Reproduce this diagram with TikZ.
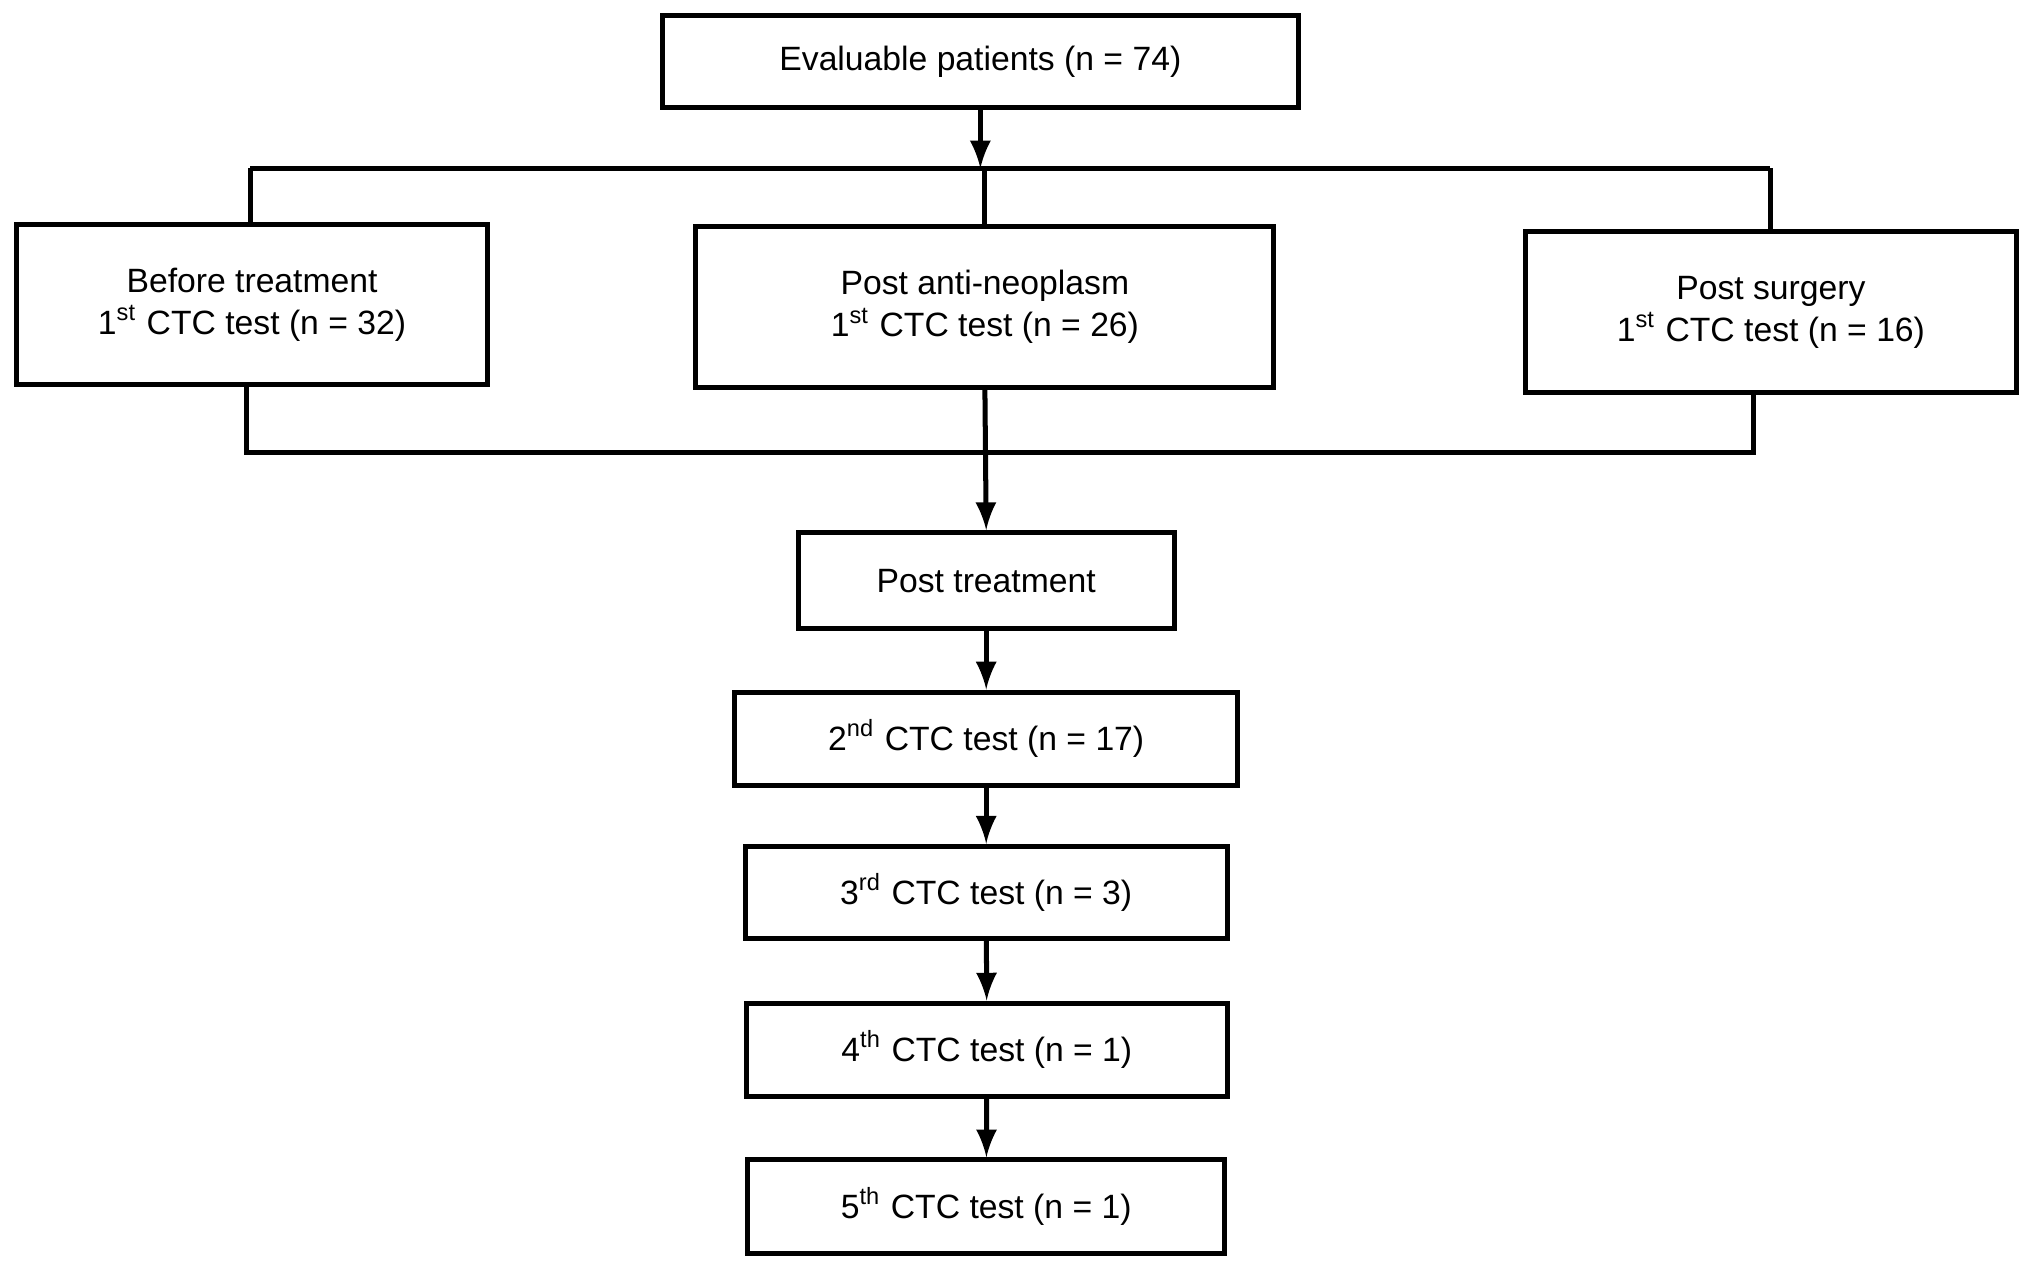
\documentclass[tikz,border=0pt]{standalone}
\usepackage{fontspec}
\setmainfont{Liberation Sans}
\usetikzlibrary{calc}
\tikzset{box/.style={draw,line width=1.1pt,align=center,inner sep=0pt,font=\fontsize{7.4}{9.2}\selectfont},
link/.style={line width=1.1pt}}
\begin{document}
\begin{tikzpicture}
\useasboundingbox (0,0) rectangle (15.68,9.8);
\node[box,minimum width=4.91cm,minimum height=0.71cm] (eval) at (7.565,9.325) {Evaluable patients (n = 74)};

\node[box,minimum width=3.63cm,minimum height=1.24cm] (before) at (1.945,7.45) {Before treatment\\1\textsuperscript{st} CTC test (n = 32)};
\node[box,minimum width=4.46cm,minimum height=1.24cm] (neo) at (7.60,7.43) {Post anti-neoplasm\\1\textsuperscript{st} CTC test (n = 26)};
\node[box,minimum width=3.79cm,minimum height=1.24cm] (surg) at (13.665,7.39) {Post surgery\\1\textsuperscript{st} CTC test (n = 16)};

\node[box,minimum width=2.9cm,minimum height=0.74cm] (post) at (7.61,5.32) {Post treatment};
\node[box,minimum width=3.88cm,minimum height=0.72cm] (second) at (7.61,4.10) {2\textsuperscript{nd} CTC test (n = 17)};
\node[box,minimum width=3.72cm,minimum height=0.71cm] (third) at (7.61,2.915) {3\textsuperscript{rd} CTC test (n = 3)};
\node[box,minimum width=3.71cm,minimum height=0.72cm] (fourth) at (7.615,1.70) {4\textsuperscript{th} CTC test (n = 1)};
\node[box,minimum width=3.68cm,minimum height=0.72cm] (fifth) at (7.61,0.49) {5\textsuperscript{th} CTC test (n = 1)};

% split lines
\coordinate (tl) at (1.93,8.5);
\coordinate (tr) at (13.66,8.5);
\coordinate (bl) at (1.90,6.31);
\coordinate (br) at (13.53,6.31);
\draw[link,-latex] (eval.south) -- (eval.south |- tl);
\draw[link] (tl) -- (tr);
\draw[link] (before.north -| tl) -- (tl);
\draw[link] (neo.north) -- (neo.north |- tl);
\draw[link] (surg.north -| tr) -- (tr);
\draw[link] (before.south -| bl) -- (bl) -- (br) -- (surg.south -| br);
\draw[link,-latex] (neo.south) -- (post.north);

% chain
\draw[link,-latex] (post) -- (second);
\draw[link,-latex] (second) -- (third);
\draw[link,-latex] (third) -- (fourth);
\draw[link,-latex] (fourth) -- (fifth);
\end{tikzpicture}
\end{document}
